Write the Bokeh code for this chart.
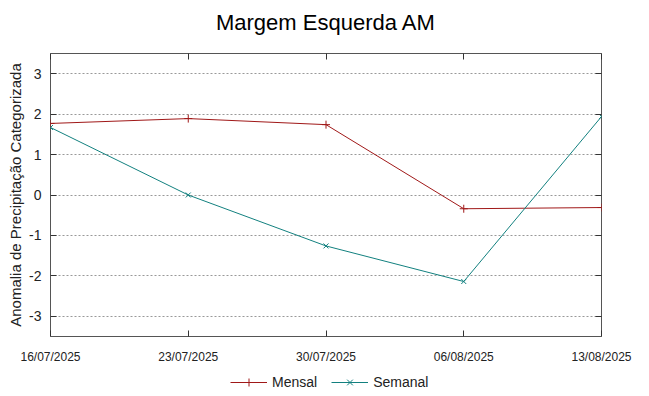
from datetime import datetime
from bokeh.plotting import figure
from bokeh.layouts import column
from bokeh.models import (Range1d, FixedTicker, DatetimeTickFormatter, LinearAxis,
                          DatetimeAxis, Legend, LegendItem, CustomJSTickFormatter)
from bokeh.embed import file_html
from bokeh.resources import INLINE

dates = ["16/07/2025", "23/07/2025", "30/07/2025", "06/08/2025", "13/08/2025"]
mensal = [1.77, 1.89, 1.74, -0.34, -0.31]
semanal = [1.67, 0.0, -1.26, -2.14, 1.94]
y_ticks = [-3, -2, -1, 0, 1, 2, 3]
series_names = ["Mensal", "Semanal"]
title_text = "Margem Esquerda AM"

x = [datetime.strptime(d, "%d/%m/%Y") for d in dates]
tick_ms = [dt.timestamp() * 1000 for dt in x]

RED = "#a01818"
TEAL = "#12807f"
FONT = "Liberation Sans"

# title strip
tf = figure(width=649, height=44, output_backend="svg", toolbar_location=None,
            x_range=Range1d(0, 1), y_range=Range1d(0, 1),
            min_border=0, min_border_left=0, min_border_right=0,
            min_border_top=0, min_border_bottom=0, outline_line_color=None)
tf.axis.visible = False
tf.grid.visible = False
tf.title.text = title_text
tf.title.align = "center"
tf.title.text_font = FONT
tf.title.text_font_size = "22px"
tf.title.text_font_style = "normal"
tf.title.text_color = "black"
tf.title.standoff = 15

p = figure(width=649, height=328, output_backend="svg", toolbar_location=None,
           x_axis_type="datetime", x_range=Range1d(x[0], x[-1]),
           y_range=Range1d(-3.5, 3.5),
           min_border_left=50, min_border_right=48, min_border_top=9, min_border_bottom=36)

p.outline_line_color = "#555555"
p.outline_line_width = 1

xf = DatetimeTickFormatter(days="%d/%m/%Y", months="%d/%m/%Y", hours="%d/%m/%Y",
                           years="%d/%m/%Y", hourmin="%d/%m/%Y")

xa = p.xaxis[0]
xa.ticker = FixedTicker(ticks=tick_ms)
xa.formatter = xf
ya = p.yaxis[0]
ya.ticker = FixedTicker(ticks=y_ticks)
ya.formatter = CustomJSTickFormatter(code="return tick.toString()")
ya.axis_label = "Anomalia de Precipitação Categorizada"
ya.axis_label_text_font = FONT
ya.axis_label_text_font_size = "15px"
ya.axis_label_text_font_style = "normal"
ya.axis_label_text_color = "#222222"
ya.axis_label_standoff = 2

for ax in (xa, ya):
    ax.axis_line_color = None
    ax.major_tick_in = 6
    ax.major_tick_out = 0
    ax.minor_tick_line_color = None
    ax.major_tick_line_color = "#333333"
    ax.major_label_text_font = FONT
    ax.major_label_text_color = "#222222"
xa.major_label_text_font_size = "12px"
xa.major_label_standoff = 13
ya.major_label_text_font_size = "14px"
ya.major_label_standoff = 9

blank = CustomJSTickFormatter(code="return ''")
ra = LinearAxis(ticker=FixedTicker(ticks=y_ticks), formatter=blank,
                axis_line_color=None, major_tick_in=6, major_tick_out=0,
                minor_tick_line_color=None, major_tick_line_color="#333333",
                major_label_standoff=0)
p.add_layout(ra, "right")
ta = DatetimeAxis(ticker=FixedTicker(ticks=tick_ms), formatter=blank,
                  axis_line_color=None, major_tick_in=6, major_tick_out=0,
                  minor_tick_line_color=None, major_tick_line_color="#333333",
                  major_label_standoff=0)
p.add_layout(ta, "above")

p.xgrid.grid_line_color = None
p.ygrid.ticker = FixedTicker(ticks=y_ticks)
p.ygrid.grid_line_color = "#999999"
p.ygrid.grid_line_dash = "2 2"
p.ygrid.grid_line_width = 1

p.line(x, mensal, line_color=RED, line_width=1)
p.scatter(x, mensal, marker="cross", size=8, line_color=RED, line_width=1)
p.line(x, semanal, line_color=TEAL, line_width=1)
p.scatter(x, semanal, marker="x", size=7, line_color=TEAL, line_width=1)

# legend strip below the chart (its glyph renderers fall outside its view)
lg = figure(width=649, height=24, output_backend="svg", toolbar_location=None,
            x_range=Range1d(0, 1), y_range=Range1d(0, 1),
            min_border=0, min_border_left=0, min_border_right=0,
            min_border_top=0, min_border_bottom=0, outline_line_color=None)
lg.axis.visible = False
lg.grid.visible = False
k1 = lg.line(x, mensal, line_color=RED, line_width=1)
k1b = lg.scatter(x, mensal, marker="cross", size=8, line_color=RED, line_width=1)
k2 = lg.line(x, semanal, line_color=TEAL, line_width=1)
k2b = lg.scatter(x, semanal, marker="x", size=7, line_color=TEAL, line_width=1)
legend = Legend(items=[LegendItem(label=series_names[0], renderers=[k1, k1b]),
                       LegendItem(label=series_names[1], renderers=[k2, k2b])],
                orientation="horizontal", location=(180, 4),
                label_text_font=FONT, label_text_font_size="14px",
                label_text_color="#222222",
                border_line_color=None, background_fill_alpha=0,
                glyph_width=37, spacing=14, padding=0, margin=0)
lg.add_layout(legend, "center")

open("out.html", "w").write(file_html(column(tf, p, lg, spacing=0), INLINE))
